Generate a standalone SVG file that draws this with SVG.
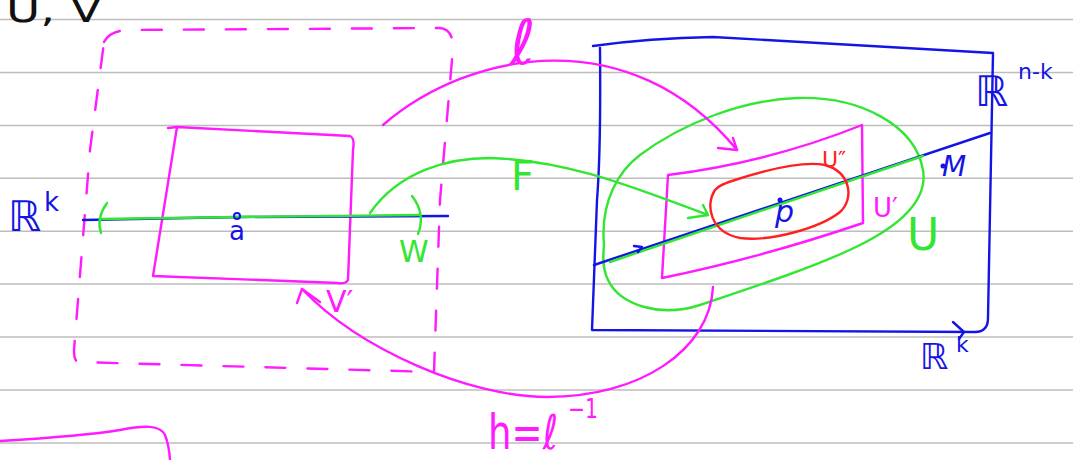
<svg xmlns="http://www.w3.org/2000/svg" width="1073" height="460" viewBox="0 0 1073 460">
<defs>
<style>
.rule{stroke:#bdbdbd;stroke-width:1.5;fill:none}
.s{fill:none;stroke-width:2.4;stroke-linecap:round;stroke-linejoin:round}
.m{stroke:#ff1aff}.b{stroke:#1414e6}.g{stroke:#33e633}.r{stroke:#ff2020}.k{stroke:#111}
.t{font-family:"DejaVu Sans","Liberation Sans",sans-serif}
.tm{fill:#ff1aff}.tb{fill:#1414e6}.tg{fill:#33e633}.tr{fill:#ff2020}.tk{fill:#111}
.dash{stroke-dasharray:20 22}
</style>
</defs>
<rect width="1073" height="460" fill="#fff"/>
<g id="rules">
<line class="rule" x1="0" y1="19.5" x2="1073" y2="19.5"/>
<line class="rule" x1="0" y1="72.5" x2="1073" y2="72.5"/>
<line class="rule" x1="0" y1="125.4" x2="1073" y2="125.4"/>
<line class="rule" x1="0" y1="178.3" x2="1073" y2="178.3"/>
<line class="rule" x1="0" y1="231.2" x2="1073" y2="231.2"/>
<line class="rule" x1="0" y1="284.1" x2="1073" y2="284.1"/>
<line class="rule" x1="0" y1="337" x2="1073" y2="337"/>
<line class="rule" x1="0" y1="390" x2="1073" y2="390"/>
<line class="rule" x1="0" y1="443" x2="1073" y2="443"/>
</g>
<g id="title">
<text class="t tk" x="6" y="22" font-size="36" textLength="96" lengthAdjust="spacingAndGlyphs">U, V</text>
</g>
<g id="domain-V">
<path class="s m dash" d="M104,42 Q110,30 130,30 L440,28 Q453,29 453,48 L440,200 L434,372 L78,362 Q74,361 74,350 L90,150 Z"/>
</g>
<g id="domain-Vprime">
<path class="s m" d="M168,128 L177,127 L350,136 Q355,138 353,150 L348,280 Q346,284 338,283 L153,276 L177,127"/>
<text class="t tm" x="326" y="312" font-size="30">V′</text>
</g>
<g id="domain-Rk">
<path class="s b" d="M83,220 L240,217 L448,216"/>
<path class="s g" d="M100,219 L240,217 L420,215"/>
<path class="s g" d="M107,203 Q96,218 101,233"/>
<path class="s g" d="M412,196 Q426,214 418,234"/>
<circle cx="237" cy="216" r="3" fill="none" stroke="#1414e6" stroke-width="2"/>
<text class="t tb" x="229" y="240" font-size="26">a</text>
<text class="t tb" x="8" y="231" font-size="42">ℝ</text>
<text class="t tb" x="44" y="211" font-size="26">k</text>
<text class="t tg" x="399" y="262" font-size="30">W</text>
</g>
<g id="target-box">
<path class="s b" d="M593,46 Q650,38 713,37 L993,53 M600,48 Q601,150 597,200 L592,330 L975,332 Q988,332 988,318 L993,53"/>
<path class="s b" d="M953,322 L964,332 L959,339"/>
<text class="t tb" x="975" y="106" font-size="42">ℝ</text>
<text class="t tb" x="1018" y="79" font-size="22">n-k</text>
<text class="t tb" x="920" y="369" font-size="36">ℝ</text>
<text class="t tb" x="956" y="352" font-size="22">k</text>
</g>
<g id="target-U">
<path class="s g" d="M604,245 C600,200 620,170 640,155 C680,125 740,100 797,98 C860,96 915,125 923,170 C928,200 900,225 860,245 C820,265 760,285 700,305 C660,318 620,305 608,280 C602,268 603,255 604,245 Z"/>
<text class="t tg" x="907" y="250" font-size="44">U</text>
</g>
<g id="target-Uprime">
<path class="s m" d="M668,175 Q770,162 862,125 L863,223 Q760,258 662,278 L668,175"/>
<text class="t tm" x="873" y="217" font-size="26">U′</text>
</g>
<g id="target-M">
<path class="s b" d="M594,265 L990,133"/>
<path class="s g" d="M610,262 L923,156"/>
<path class="s b" d="M634,246 L642,247 L638,252"/>
<circle cx="780" cy="200" r="2.5" fill="#1414e6"/>
<circle cx="943" cy="166" r="2.5" fill="#1414e6"/>
<text class="t tb" x="942" y="176" font-size="28" font-style="italic">M</text>
</g>
<g id="target-Udoubleprime">
<path class="s r" d="M715,190 C705,205 710,232 740,238 C770,242 820,228 840,212 C855,198 850,172 825,165 C800,160 760,172 735,180 C725,183 718,186 715,190 Z"/>
<text class="t tr" x="822" y="167" font-size="22">U″</text>
<text class="t tb" x="775" y="222" font-size="30" font-style="italic">p</text>
</g>
<g id="connectors">
<path class="s m" d="M383,125 C470,50 630,20 737,150"/>
<path class="s m" d="M718,148 L737,150 L733,138"/>
<text class="t tm" x="510" y="64" font-size="62">ℓ</text>
<path class="s g" d="M370,213 C400,170 450,158 490,158 C570,160 640,190 708,215"/>
<path class="s g" d="M688,218 L708,215 L703,205"/>
<text class="t tg" x="511" y="190" font-size="40">F</text>
<path class="s m" d="M713,287 C710,350 640,397 547,397 C470,397 360,350 302,289"/>
<path class="s m" d="M297,303 L302,289 L320,302"/>
<text class="t tm" x="488" y="449" font-size="48" textLength="70" lengthAdjust="spacingAndGlyphs">h=ℓ</text>
<text class="t tm" x="568" y="418" font-size="26" textLength="30" lengthAdjust="spacingAndGlyphs">−1</text>
</g>
<g id="fragment">
<path class="s m" d="M0,441 C50,438 90,435 120,430 C145,425 160,425 165,435 Q169,445 170,460"/>
</g>
</svg>
